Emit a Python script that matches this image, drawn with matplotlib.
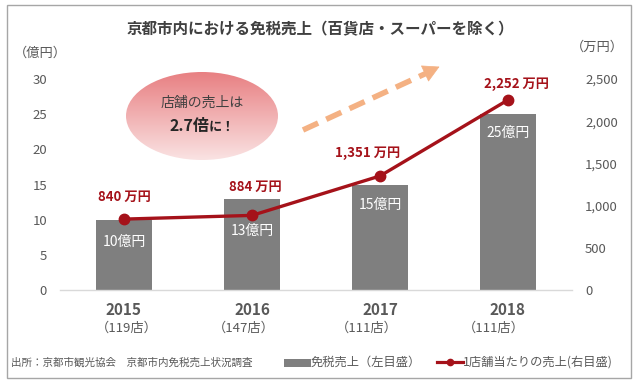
import matplotlib
matplotlib.use("Agg")
import matplotlib.pyplot as plt
import numpy as np
from matplotlib.patches import Ellipse, Rectangle, FancyArrowPatch
from matplotlib.lines import Line2D

plt.rcParams['font.family'] = ['Noto Sans CJK JP', 'DejaVu Sans']

years = ["2015", "2016", "2017", "2018"]
stores = ["（119店）", "（147店）", "（111店）", "（111店）"]
sales_oku = [10, 13, 15, 25]
sales_labels = ["10億円", "13億円", "15億円", "25億円"]
per_store = [840, 884, 1351, 2252]
per_store_labels = ["840 万円", "884 万円", "1,351 万円", "2,252 万円"]
left_ticks = [0, 5, 10, 15, 20, 25, 30]
right_ticks = [0, 500, 1000, 1500, 2000, 2500]

W, H = 640, 385
fig = plt.figure(figsize=(6.4, 3.85), dpi=100)
PT = 72 / 100  # points per pixel


def fx(px):
    return px / W


def fy(py):
    return 1 - py / H


BAR = "#7f7f7f"
LINE = "#a5121a"
TXT = "#595959"

ax = fig.add_axes([fx(60), fy(290), fx(572) - fx(60), fy(79) - fy(290)])
x = np.arange(len(years))
ax.bar(x, sales_oku, width=0.43, color=BAR, zorder=2)
ax.set_xlim(-0.5, 3.5)
ax.set_ylim(0, 30)
ax.set_yticks(left_ticks)
ax.set_yticklabels([str(t) for t in left_ticks], color=TXT, fontsize=9.5)
ax.tick_params(axis='y', length=0, pad=13 * PT)
ax.set_xticks([])
for s in ["top", "right", "left"]:
    ax.spines[s].set_visible(False)
ax.spines["bottom"].set_color("#d9d9d9")
ax.spines["bottom"].set_linewidth(1.0)

# bar value labels (pixel offsets below bar top)
bar_lab_off = [22, 32, 20, 19]
for i, lab in enumerate(sales_labels):
    ax.annotate(lab, (x[i], sales_oku[i]), xytext=(0, -bar_lab_off[i] * PT), textcoords="offset points",
                ha="center", va="center", color="white", fontsize=10)

ax2 = ax.twinx()
ax2.set_ylim(0, 2500)
ax2.plot(x, per_store, color=LINE, lw=2.4, marker="o", ms=7.5, zorder=3)
ax2.set_yticks(right_ticks)
ax2.set_yticklabels([f"{t:,}" for t in right_ticks], color=TXT, fontsize=9.5)
ax2.tick_params(axis='y', length=0, pad=13 * PT)
for s in ["top", "right", "left", "bottom"]:
    ax2.spines[s].set_visible(False)

# line value labels (pixel offsets from marker)
label_off = [(0, 22), (3, 28), (-12, 23), (9, 16)]
for i, lab in enumerate(per_store_labels):
    dx, dy = label_off[i]
    ax2.annotate(lab, (x[i], per_store[i]), xytext=(dx * PT, dy * PT), textcoords="offset points",
                 ha="center", va="center", color=LINE, fontsize=9.5, fontweight="bold")

# x labels
store_dx = [3, -8, -13, -14]
for i in range(len(years)):
    ax.annotate(years[i], (x[i], 0), xytext=(0, -20 * PT), textcoords="offset points",
                ha="center", va="center", fontsize=11, fontweight="bold", color=TXT, annotation_clip=False)
    ax.annotate(stores[i], (x[i], 0), xytext=(store_dx[i] * PT, -38 * PT), textcoords="offset points",
                ha="center", va="center", fontsize=9.5, color=TXT, annotation_clip=False)

# overlay in pixel coords
ov = fig.add_axes([0, 0, 1, 1], zorder=5)
ov.set_xlim(0, W)
ov.set_ylim(H, 0)
ov.axis("off")
ov.patch.set_alpha(0)

# border
ov.add_patch(Rectangle((7, 5), 624, 373, fill=False, ec="#a6a6a6", lw=1.0))

ov.text(320, 29, "京都市内における免税売上（百貨店・スーパーを除く）", ha="center", va="center",
        fontsize=11.2, fontweight="bold", color="#404040")
ov.text(40, 53, "（億円）", ha="center", va="center", fontsize=9.5, color=TXT)
ov.text(597, 47, "（万円）", ha="center", va="center", fontsize=9.5, color=TXT)

# gradient ellipse
ell = Ellipse((202, 116), 152, 88, fc="none", ec="none")
ov.add_patch(ell)
grad = np.linspace(0, 1, 256).reshape(-1, 1)
c1 = np.array([0.91, 0.50, 0.51])
c2 = np.array([0.98, 0.89, 0.89])
img = c1 + (c2 - c1) * grad[..., None]
img = np.repeat(img, 2, axis=1)
im = ov.imshow(img, extent=(126, 278, 160, 72), aspect="auto", zorder=1)
im.set_clip_path(ell)
ov.set_xlim(0, W)
ov.set_ylim(H, 0)
ov.text(202, 103, "店舗の売上は", ha="center", va="center", fontsize=10, color="#404040", zorder=2)
ov.text(189, 126, "2.7倍", ha="center", va="center", fontsize=11.5, fontweight="bold", color="#262626", zorder=2)
ov.text(222, 127, "に！", ha="center", va="center", fontsize=9.5, fontweight="bold", color="#262626", zorder=2)

# dashed arrow: dashed shaft + solid head
ARC = "#f4b183"
ov.add_line(Line2D([303, 429], [130, 72], color=ARC, lw=4, linestyle=(0, (3, 1.6)), zorder=2))
head = FancyArrowPatch((426, 73), (442, 65.5), arrowstyle="-|>,head_length=11,head_width=6",
                       color=ARC, lw=0.5, mutation_scale=1, zorder=2)
ov.add_patch(head)

# legend / source row
ov.text(11, 363, "出所：京都市観光協会　京都市内免税売上状況調査", ha="left", va="center", fontsize=7.6, color=TXT)
ov.add_patch(Rectangle((284, 359), 27, 8, fc=BAR, ec="none"))
ov.text(311, 362, "免税売上（左目盛）", ha="left", va="center", fontsize=8.8, color=TXT)
ov.add_line(Line2D([437, 463], [362, 362], color=LINE, lw=2.3))
ov.plot([450], [362], marker="o", color=LINE, ms=4.5)
ov.text(463, 362, "1店舗当たりの売上(右目盛)", ha="left", va="center", fontsize=8.8, color=TXT)

fig.savefig("out.png", dpi=100)
